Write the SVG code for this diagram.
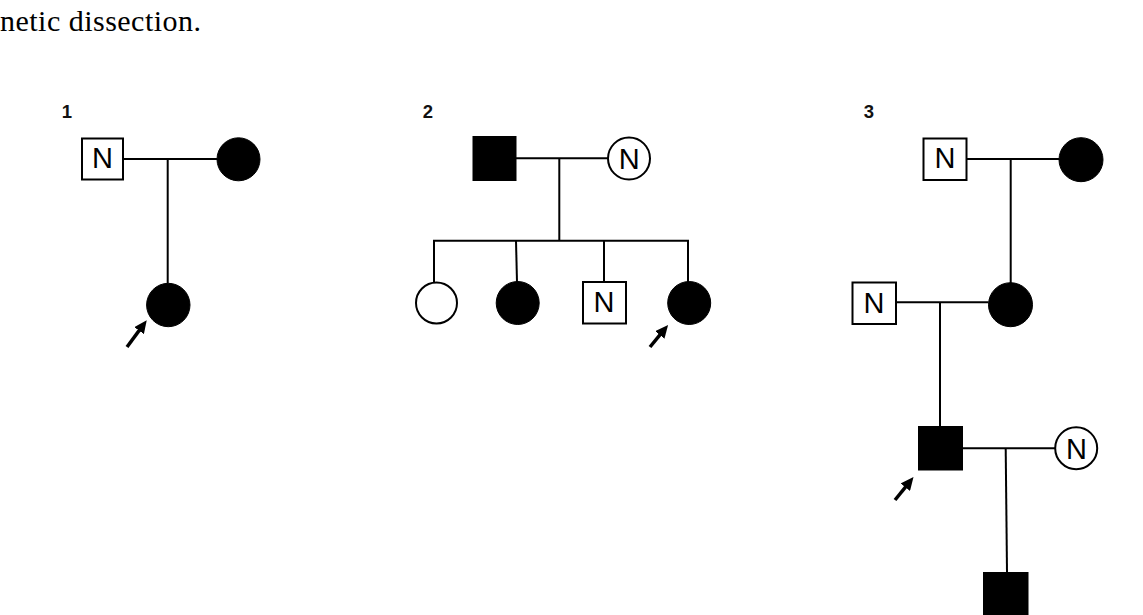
<svg xmlns="http://www.w3.org/2000/svg" width="1143" height="615" viewBox="0 0 1143 615">
<style>
.ln{stroke:#000;stroke-width:2;fill:none}
.open{fill:#fff;stroke:#000;stroke-width:2}
.aff{fill:#000;stroke:#000;stroke-width:1}
.lbl{font-family:"Liberation Sans",Arial,sans-serif;font-size:29px;fill:#000;text-anchor:middle}
.num{font-family:"Liberation Sans",Arial,sans-serif;font-size:18.5px;font-weight:700;fill:#111;text-anchor:middle}
.arr{stroke:#000;stroke-width:3.5;fill:none;marker-end:url(#ah)}
</style>
<defs>
<marker id="ah" markerUnits="userSpaceOnUse" markerWidth="13" markerHeight="12" refX="5" refY="6" orient="auto">
<path d="M0,0 L13,6 L0,12 z" fill="#000"/>
</marker>
</defs>
<rect x="0" y="0" width="1143" height="615" fill="#fff"/>
<text x="0" y="30.5" font-family="'Liberation Serif','Times New Roman',serif" font-size="30" textLength="201" lengthAdjust="spacing" fill="#000">netic dissection.</text>

<g id="titles">
<text class="num" x="67" y="118">1</text>
<text class="num" x="428" y="118">2</text>
<text class="num" x="869" y="118">3</text>
</g>

<g id="connectors">
<!-- pedigree 1 -->
<line class="ln" x1="123" y1="159" x2="217" y2="159"/>
<line class="ln" x1="167.7" y1="159" x2="167.7" y2="283.5"/>
<!-- pedigree 2 -->
<line class="ln" x1="516" y1="158.3" x2="608" y2="158.3"/>
<line class="ln" x1="559.3" y1="158.3" x2="559.3" y2="240.7"/>
<line class="ln" x1="433" y1="240.7" x2="689" y2="240.7"/>
<line class="ln" x1="434" y1="240.7" x2="434" y2="283"/>
<line class="ln" x1="516" y1="240.7" x2="517" y2="282"/>
<line class="ln" x1="604" y1="240.7" x2="604" y2="282"/>
<line class="ln" x1="688" y1="240.7" x2="688" y2="282"/>
<!-- pedigree 3 -->
<line class="ln" x1="967" y1="159" x2="1059" y2="159"/>
<line class="ln" x1="1010.7" y1="159" x2="1010.7" y2="283"/>
<line class="ln" x1="896" y1="302.3" x2="988.5" y2="302.3"/>
<line class="ln" x1="940" y1="302.3" x2="940" y2="427"/>
<line class="ln" x1="962" y1="448.3" x2="1055" y2="448.3"/>
<line class="ln" x1="1005.7" y1="448.3" x2="1007" y2="572.5"/>
<!-- proband arrows -->
<line class="arr" x1="127" y1="347" x2="142" y2="326.6"/>
<line class="arr" x1="650" y1="347" x2="663" y2="331.2"/>
<line class="arr" x1="895" y1="500" x2="908.5" y2="483.3"/>
</g>

<!-- pedigree 1 -->
<g id="p1-father">
<rect class="open" x="82" y="138.5" width="41" height="41"/>
<text class="lbl" x="102.5" y="167.5">N</text>
</g>
<g id="p1-mother">
<circle class="aff" cx="238.5" cy="159.3" r="21.5"/>
</g>
<g id="p1-proband">
<circle class="aff" cx="168.3" cy="305" r="21.7"/>
</g>

<!-- pedigree 2 -->
<g id="p2-father">
<rect class="aff" x="473" y="136.5" width="43" height="44"/>
</g>
<g id="p2-mother">
<circle class="open" cx="629" cy="158.5" r="21"/>
<text class="lbl" x="629.3" y="169">N</text>
</g>
<g id="p2-child1">
<circle class="open" cx="436.5" cy="303" r="20.5"/>
</g>
<g id="p2-child2">
<circle class="aff" cx="517.7" cy="303" r="21.5"/>
</g>
<g id="p2-child3">
<rect class="open" x="583" y="282" width="43" height="41.5"/>
<text class="lbl" x="604" y="312">N</text>
</g>
<g id="p2-proband">
<circle class="aff" cx="689.2" cy="303" r="21.5"/>
</g>

<!-- pedigree 3 -->
<g id="p3-grandfather">
<rect class="open" x="923.5" y="138.5" width="43" height="41.5"/>
<text class="lbl" x="945" y="168">N</text>
</g>
<g id="p3-grandmother">
<circle class="aff" cx="1081" cy="159.7" r="22"/>
</g>
<g id="p3-father">
<rect class="open" x="852.5" y="282.5" width="43.5" height="41.5"/>
<text class="lbl" x="874" y="312.5">N</text>
</g>
<g id="p3-mother">
<circle class="aff" cx="1010.5" cy="304.7" r="22"/>
</g>
<g id="p3-proband">
<rect class="aff" x="918.5" y="426.5" width="44" height="43.5"/>
</g>
<g id="p3-spouse">
<circle class="open" cx="1076.2" cy="448.2" r="21"/>
<text class="lbl" x="1076.5" y="458.8">N</text>
</g>
<g id="p3-son">
<rect class="aff" x="983.5" y="572.5" width="44.5" height="50"/>
</g>
</svg>
